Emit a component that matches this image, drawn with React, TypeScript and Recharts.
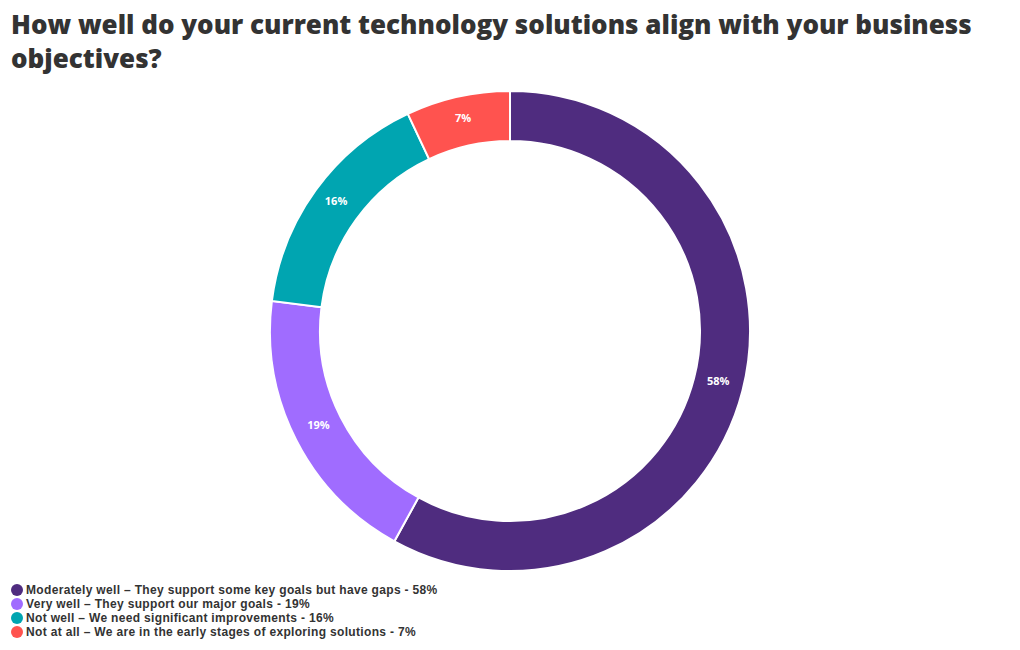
import React from "react";
import { PieChart, Pie, Cell } from "recharts";

const categories = [
  "Moderately well – They support some key goals but have gaps",
  "Very well – They support our major goals",
  "Not well – We need significant improvements",
  "Not at all – We are in the early stages of exploring solutions",
];
const values = [58, 19, 16, 7];
const colors = ["#4F2C7F", "#A06CFF", "#00A5B1", "#FF534F"];

const data = categories.map((name, i) => ({ name, value: values[i] }));

const FONT = "'Open Sans', 'Noto Sans', sans-serif";
const LEGEND_FONT = "'Liberation Sans', Arial, sans-serif";
const RAD = Math.PI / 180;
const renderLabel = (props: any) => {
  const { cx, cy, midAngle, innerRadius, outerRadius, value } = props;
  const r = (innerRadius + outerRadius) / 2;
  const x = cx + r * Math.cos(-midAngle * RAD);
  const y = cy + r * Math.sin(-midAngle * RAD);
  return (
    <text
      x={x}
      y={y - 4}
      fill="#ffffff"
      textAnchor="middle"
      dominantBaseline="central"
      fontSize={11}
      fontWeight={700}
      fontFamily={FONT}
    >
      {`${value}%`}
    </text>
  );
};

export default function App() {
  return (
    <div
      style={{
        position: "absolute",
        left: 0,
        top: 0,
        width: 1020,
        height: 650,
        background: "#ffffff",
        fontFamily: FONT,
        color: "#333333",
      }}
    >
      <div
        style={{
          position: "absolute",
          left: 11,
          top: 7,
          width: 1005,
          fontSize: 26,
          fontWeight: 800,
          lineHeight: "34px",
          color: "#333333",
        }}
      >
        How well do your current technology solutions align with your business objectives?
      </div>
      <div style={{ position: "absolute", left: 0, top: 0 }}>
        <PieChart width={1020} height={650} margin={{ top: 0, right: 0, bottom: 0, left: 0 }}>
          <Pie
            data={data}
            dataKey="value"
            nameKey="name"
            cx={510}
            cy={331}
            innerRadius={190}
            outerRadius={240}
            startAngle={90}
            endAngle={-270}
            stroke="#ffffff"
            strokeWidth={2}
            label={renderLabel}
            labelLine={false}
            isAnimationActive={false}
          >
            {data.map((d, i) => (
              <Cell key={d.name} fill={colors[i]} />
            ))}
          </Pie>
        </PieChart>
      </div>
      <div style={{ position: "absolute", left: 11, top: 583 }}>
        {data.map((d, i) => (
          <div
            key={d.name}
            style={{
              display: "flex",
              alignItems: "center",
              height: 14,
              lineHeight: "14px",
              fontSize: 12,
              fontWeight: 700,
              letterSpacing: "0.33px",
              fontFamily: LEGEND_FONT,
              color: "#333333",
              whiteSpace: "nowrap",
            }}
          >
            <span
              style={{
                display: "inline-block",
                width: 12,
                height: 12,
                borderRadius: 6,
                background: colors[i],
                marginRight: 3,
              }}
            />
            {`${d.name} - ${d.value}%`}
          </div>
        ))}
      </div>
    </div>
  );
}
